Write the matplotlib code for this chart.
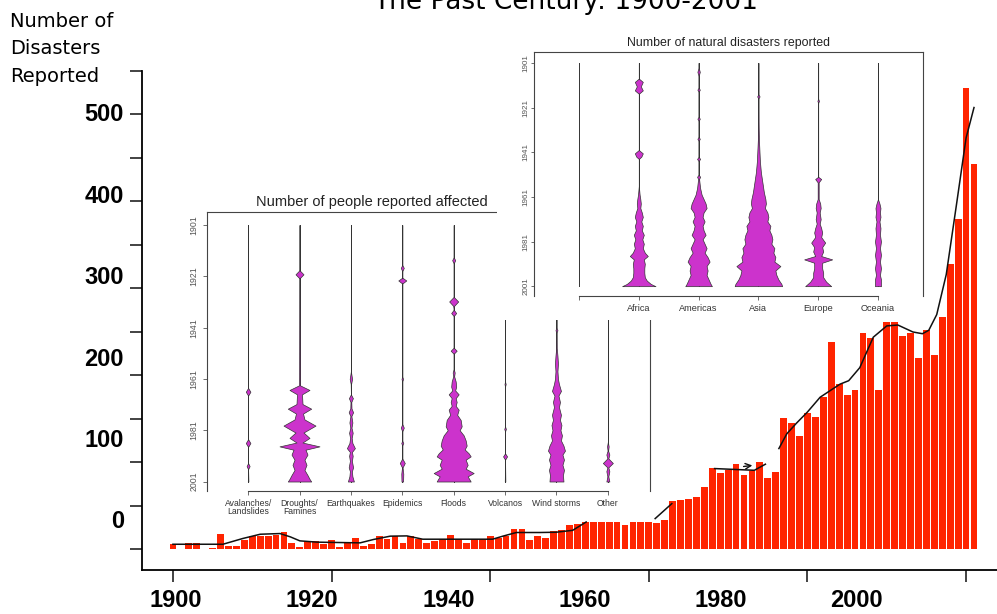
import matplotlib
matplotlib.use('Agg')
import matplotlib.pyplot as plt
import numpy as np

# Number of disasters reported per year, 1900-2001
years = list(range(1900, 2002))
disasters = [6, 0, 7, 7, 0, 2, 18, 4, 4, 11,
             15, 16, 16, 17, 20, 8, 3, 9, 10, 6,
             11, 3, 8, 13, 4, 6, 16, 12, 15, 7,
             16, 12, 7, 10, 12, 17, 12, 8, 12, 12,
             15, 13, 16, 23, 23, 11, 16, 13, 21, 22,
             28, 29, 32, 32, 32, 32, 32, 28, 32, 32,
             32, 31, 34, 56, 57, 58, 60, 72, 94, 88,
             91, 98, 86, 90, 101, 82, 89, 151, 145, 130,
             157, 152, 175, 238, 190, 178, 183, 249, 243, 183,
             261, 261, 245, 249, 220, 252, 223, 267, 328, 380,
             531, 443]

# smoothed trend (nan = gap in the drawn line)
trend_years = [1900, 1906.3, 1908.8, 1911, 1913.5, 1914.8, 1916, 1918.2, 1923.6, 1925.3,
               1927.4, 1929.5, 1931.5, 1940.3, 1941.6, 1943.3, 1946.2, 1948.3, 1950.4, 1952.1,
               1956, 1960.8, 1962.9, 1965, 1968.3, 1973.3, 1974.7, 1975.5,
               1976.4, 1977.4, 1978.6, 1980, 1981.6, 1984.1, 1985.2, 1986.6, 1988.3, 1990,
               1991.4, 1993.3, 1994.5, 1995.3, 1996.3, 1997.5, 1998.8, 2000, 2001]
trend_values = [6, 6, 12.6, 17.5, 18.3, 14.5, 9.9, 8.4, 7.6, 11.5,
                15.3, 15.6, 11.8, 11.8, 15.3, 19.5, 19.5, 19.8, 22, 31.6,
                np.nan, 35.5, 52.7, np.nan, 93, 91, 98, np.nan,
                116, 133, 145, 158, 175, 190, 194, 209, 244, 257,
                258, 250, 248, 252, 270, 316, 397, 473, 508]

ytick_labels = [500, 400, 300, 200, 100, 0]
xtick_labels = [1900, 1920, 1940, 1960, 1980, 2000]

# Inset 1: number of people reported affected (bean outlines: year, relative width)
affected_cats = ['Avalanches/\nLandslides', 'Droughts/\nFamines', 'Earthquakes', 'Epidemics',
                 'Floods', 'Volcanos', 'Wind storms', 'Other']
aval_y = [1901, 1964.5, 1966, 1967.5, 1984.5, 1986, 1987.5, 1993.8, 1995, 1996.2, 2001]
aval_w = [0, 0, 2.3, 0, 0, 2.3, 0, 0, 1.5, 0, 0.3]
drought_y = [1901, 1918.6, 1920.2, 1921.8, 1963.5, 1965.3, 1967.0, 1970.8, 1972.6, 1974.5, 1976.8,
             1979.2, 1981.9, 1984.0, 1985.8, 1987.3, 1988.6, 1990.5, 1992.5, 1994.5, 1996.5,
             1998.5, 2000, 2001]
drought_w = [0, 0, 4, 0, 0.5, 10, 2.5, 3, 11.7, 3.5, 5, 16, 4, 10, 3, 20, 6, 8, 5, 7, 5, 8, 10, 11.7]
quake_y = [1901, 1958, 1961, 1963, 1967, 1968.5, 1970, 1972.5, 1974, 1975.5, 1978, 1980, 1982,
           1984, 1986, 1988, 1989.5, 1991, 1993, 1995.5, 1997, 1999, 2001]
quake_w = [0, 0, 1.2, 0.2, 0, 2, 0.4, 0.6, 2.2, 0.5, 1.5, 0.6, 1.8, 0.8, 1.5, 4, 1, 1.8, 1,
           2.2, 1, 1.5, 3]
epid_y = [1901, 1916.5, 1917.7, 1919, 1921.5, 1922.6, 1923.8, 1960, 1961, 1962, 1978.5, 1980,
          1981.5, 1985, 1986, 1987, 1992, 1993.8, 1995.5, 1998, 2001]
epid_w = [0, 0, 1.5, 0, 0, 4, 0, 0, 0.8, 0, 0, 1.5, 0, 0, 1, 0, 0, 2.5, 0.3, 1, 0.8]
flood_y = [1901, 1913.5, 1914.7, 1916, 1929, 1930.8, 1932.5, 1934, 1935.3, 1936.5, 1948.8, 1950,
           1951.2, 1957, 1958.5, 1960, 1962, 1964, 1965.5, 1967, 1968.5, 1970, 1971.5, 1973,
           1975, 1977, 1979.5, 1981, 1983, 1985, 1987, 1988.5, 1990, 1991.2, 1992.5, 1994.5,
           1996, 1997.7, 1999, 2001]
flood_w = [0, 0, 1.5, 0, 0, 4.5, 0.5, 0, 2.5, 0, 0, 3, 0, 0, 1, 0.5, 2, 2.5, 1.5, 5, 2, 3, 2,
           5, 3.5, 7, 8, 6, 10, 12, 13, 11, 15, 17, 12, 14, 12, 20, 14, 17]
volc_y = [1901, 1962, 1963, 1964, 1979.5, 1980.5, 1981.5, 1990, 1991.2, 1992.5, 2001]
volc_w = [0, 0, 0.6, 0, 0, 0.8, 0, 0, 2, 0, 0.3]
wind_y = [1901, 1941, 1942, 1943, 1949, 1952, 1955, 1958, 1961, 1963, 1965.7, 1967.5, 1970,
          1972, 1975, 1977, 1979, 1981, 1983, 1985, 1987, 1989, 1990.5, 1992.5, 1994.5, 1996.5,
          1998.5, 2001]
wind_w = [0, 0, 1, 0, 0.3, 1, 1.5, 1, 1.5, 2.5, 4.5, 2, 3.5, 2.5, 4.5, 3.5, 5, 4, 5.5, 4.5, 7,
          8.5, 6, 7.5, 6, 7.5, 6.5, 7]
other_y = [1901, 1985.5, 1987.3, 1989, 1990.5, 1992, 1993.8, 1995.5, 1997, 1999, 2001]
other_w = [0, 0, 0.8, 0.3, 1.5, 0.5, 5, 0.5, 1.5, 0.5, 1.5]

# Inset 2: number of natural disasters reported, by region
regions = ['', 'Africa', 'Americas', 'Asia', 'Europe', 'Oceania']
africa_y = [1901, 1908, 1909.5, 1911.5, 1913.3, 1914.8, 1940, 1941.5, 1943, 1944, 1956, 1960,
            1962, 1964, 1966, 1968, 1970, 1972, 1974, 1976, 1978, 1980, 1982, 1984, 1986,
            1987.5, 1989, 1991, 1993, 1995, 1997, 1998.5, 2000, 2001]
africa_w = [0, 0, 4, 2, 4, 0, 0, 4, 2.5, 0, 0, 0.8, 1.5, 2, 1.5, 3, 4, 2.5, 4, 3, 5, 3.5, 5,
            4, 6, 9, 5, 6, 5.5, 5.5, 6, 8, 12, 16.7]
americas_y = [1901, 1903, 1905, 1907, 1912, 1913, 1914, 1925, 1926, 1927, 1934, 1935, 1936,
              1943, 1944, 1945, 1951, 1952, 1953, 1955, 1957, 1960, 1962, 1964, 1966, 1968,
              1970, 1972, 1974, 1976, 1978, 1980, 1982, 1984, 1986, 1988, 1990, 1992, 1994,
              1996, 1998, 2000, 2001]
americas_w = [0, 0, 1.2, 0, 0, 1.2, 0, 0, 1.2, 0, 0, 1.2, 0, 0, 1.5, 0, 0, 1.5, 0.5, 1, 1.5,
              3, 5, 7, 8, 5, 4, 6, 4, 5, 7, 4, 6, 8, 6, 9, 11, 8, 9, 8, 10, 12, 13.3]
asia_y = [1901, 1915, 1916, 1917, 1930, 1935, 1940, 1945, 1950, 1953, 1956, 1959, 1962, 1964,
          1966, 1968, 1970, 1972, 1974, 1976, 1978, 1980, 1982, 1984, 1986, 1988, 1990, 1992,
          1994, 1996, 1998, 2000, 2001]
asia_w = [0, 0, 1.2, 0, 0.3, 0.5, 1, 1.5, 2.5, 3.5, 4.5, 5.5, 7, 7.5, 6.5, 9, 10, 9, 12, 11, 13,
          14, 13, 16, 15, 17, 16, 22, 17, 18, 20, 23, 23.7]
europe_y = [1901, 1917, 1918, 1919, 1952, 1953, 1954.5, 1962, 1964, 1966, 1968, 1971, 1973,
            1975, 1977, 1979, 1981.5, 1983.5, 1985.5, 1987.5, 1989, 1990.5, 1993, 1995, 1997,
            1999, 2001]
europe_w = [0, 0, 0.8, 0, 0, 3, 0.5, 0.5, 2, 2.5, 1.5, 2.5, 1.5, 3, 4, 3, 7, 4, 5, 3, 14, 4,
            4, 5, 5, 8, 13]
oceania_y = [1901, 1962, 1964, 1966, 1968, 1970, 1972, 1975, 1978, 1981, 1984, 1987, 1990,
             1993, 1996, 1998, 2001]
oceania_w = [0, 0, 1.5, 2.5, 2, 2.5, 1.5, 2.5, 2, 3, 2, 3, 2, 3, 2, 3, 3]

W, H = 997, 614
BAR = '#ff2400'
MAG = '#cc33cc'


def fig_box(left, top, right, bottom):
    return [left / W, 1 - bottom / H, (right - left) / W, (bottom - top) / H]


fig = plt.figure(figsize=(W / 100, H / 100), dpi=100)

# ---- main bar chart ----
ax = fig.add_axes(fig_box(142, 71, 997, 570))
ax.bar(years, disasters, width=0.86, color=BAR, zorder=2)
ax.plot(trend_years, trend_values, color='#111111', lw=1.1, zorder=3)
ax.annotate('', xy=(1973.4, 97), xytext=(1971.6, 95),
            arrowprops=dict(arrowstyle='->', color='#111111', lw=1.0), zorder=4)
ax.set_xlim(1896.1, 2003.9)
ax.set_ylim(-23.6, 550)
for s in ['top', 'right']:
    ax.spines[s].set_visible(False)
for s in ['left', 'bottom']:
    ax.spines[s].set_linewidth(1.3)
ax.set_yticks(np.arange(0, 551, 50))
ax.set_yticklabels([])
ax.set_xticks(xtick_labels)
ax.set_xticklabels([])
ax.tick_params(length=8.5, width=1.2, color='#222222')

for v in ytick_labels:
    ax.text(-0.021, 31.6 + 0.936 * v, str(v), transform=ax.get_yaxis_transform(),
            ha='right', va='center', fontsize=17, fontweight='bold',
            family='Liberation Sans')
for v in xtick_labels:
    ax.text(1900.4 + 0.858 * (v - 1900), -0.062, str(v), transform=ax.get_xaxis_transform(),
            ha='center', va='center', fontsize=17, fontweight='bold',
            family='Liberation Sans')

fig.text(10 / W, 1 - 12 / H, 'Number of\nDisasters\nReported', ha='left', va='top',
         fontsize=14, linespacing=1.55, family='DejaVu Sans')
fig.text(566 / W, 1 - 9 / H, 'The Past Century: 1900-2001', ha='center', va='baseline',
         fontsize=19, family='DejaVu Sans')


def bean_axes(box, ylim, xlim, cats, title, title_x, tfs, yfs, xfs):
    a = fig.add_axes(box)
    a.set_facecolor('white')
    a.set_ylim(*ylim)
    a.set_xlim(*xlim)
    for s in ['left', 'top', 'right', 'bottom']:
        a.spines[s].set_linewidth(0.8)
        a.spines[s].set_color('#444444')
    a.set_yticks([1901, 1921, 1941, 1961, 1981, 2001])
    a.set_yticklabels(['1901', '1921', '1941', '1961', '1981', '2001'], rotation=90,
                      va='center', fontsize=yfs, color='#555555', family='Liberation Sans')
    a.set_xticks(range(len(cats)) if cats[0] == '' else range(1, len(cats) + 1))
    a.set_xticklabels(cats, fontsize=xfs, color='#333333', family='Liberation Sans',
                      linespacing=0.95)
    a.tick_params(axis='y', length=3.2, width=0.6, color='#555555', pad=3)
    a.tick_params(axis='x', length=3, width=0.6, color='#555555', pad=2.5, bottom=True)
    a.text(title_x, 1.012, title, transform=a.transAxes, ha='center', va='bottom',
           fontsize=tfs, color='#222222', family='Liberation Sans')
    return a


def draw_bean(a, pos, yy, ww, px):
    yy = np.array(yy, dtype=float)
    ww = np.array(ww, dtype=float) / px
    a.plot([pos, pos], [1901, 2001], color='#333333', lw=0.7, zorder=2)
    a.fill_betweenx(yy, pos - ww, pos + ww, facecolor=MAG, edgecolor='#333333',
                    lw=0.5, zorder=3)


# ---- inset 1 ----
ax1 = bean_axes(fig_box(207, 212, 650, 491), (2004.7, 1895.9), (0.2, 8.82),
                affected_cats, 'Number of people reported affected', 0.372, 10.5, 6.3, 6.2)
ax1.spines['bottom'].set_bounds(1, 8)
affected = [(aval_y, aval_w), (drought_y, drought_w), (quake_y, quake_w), (epid_y, epid_w),
            (flood_y, flood_w), (volc_y, volc_w), (wind_y, wind_w), (other_y, other_w)]
for i, (yy, ww) in enumerate(affected):
    draw_bean(ax1, i + 1, yy, ww, 51.4)

# white patch behind inset 2
bg = fig.add_axes(fig_box(497, 30, 926, 320))
bg.set_xticks([])
bg.set_yticks([])
for s in bg.spines.values():
    s.set_visible(False)

# ---- inset 2 ----
ax2 = bean_axes(fig_box(534, 52, 923, 296), (2005.4, 1896.1), (-0.753, 5.753),
                regions, 'Number of natural disasters reported', 0.5, 8.9, 5.8, 6.6)
ax2.spines['bottom'].set_bounds(0, 5)
ax2.tick_params(axis='y', length=2.5, pad=1)
ax2.plot([0, 0], [1901, 2001], color='#333333', lw=0.7)
by_region = [(africa_y, africa_w), (americas_y, americas_w), (asia_y, asia_w),
             (europe_y, europe_w), (oceania_y, oceania_w)]
for i, (yy, ww) in enumerate(by_region):
    draw_bean(ax2, i + 1, yy, ww, 59.8)

fig.savefig('out.png', dpi=100)
